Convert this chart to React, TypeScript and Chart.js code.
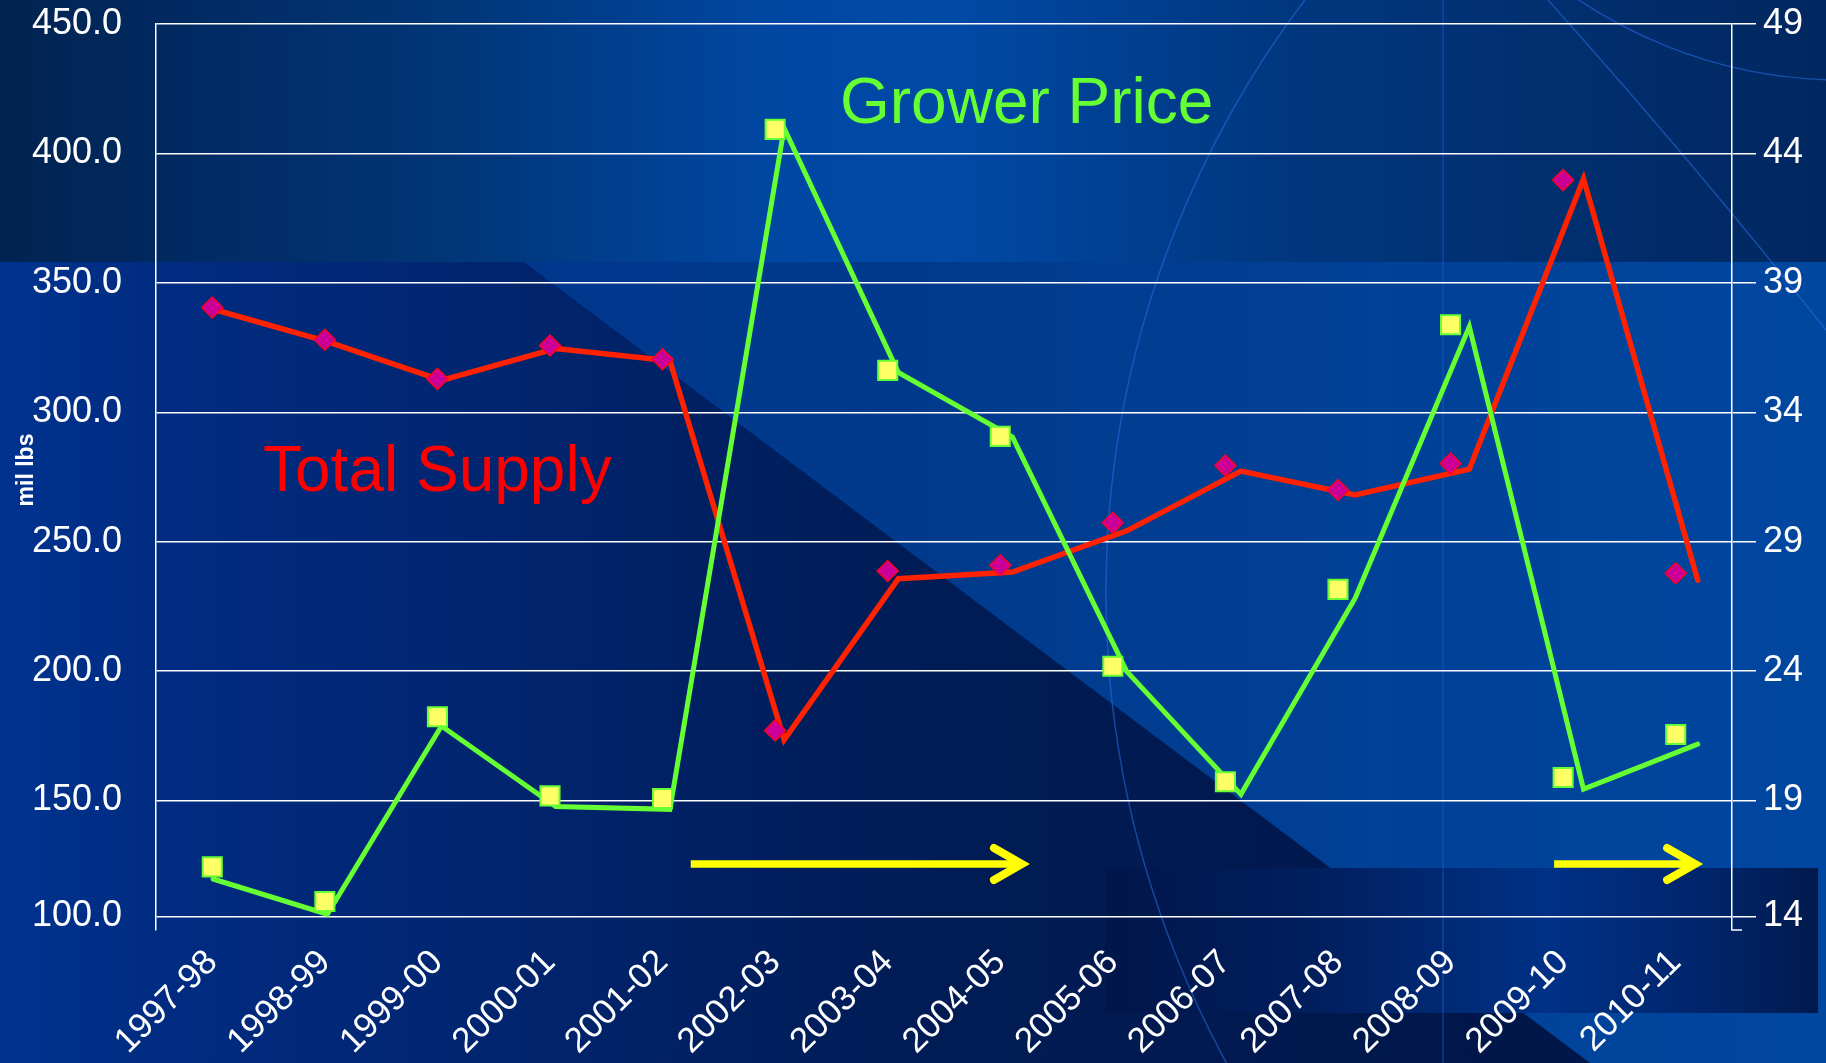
import React, { useEffect, useRef } from "react";
import { Chart, registerables } from "chart.js";

Chart.register(...registerables);

const FONT = "'Liberation Sans', Arial, Helvetica, sans-serif";

const seasons = [
  "1997-98", "1998-99", "1999-00", "2000-01", "2001-02", "2002-03", "2003-04",
  "2004-05", "2005-06", "2006-07", "2007-08", "2008-09", "2009-10", "2010-11",
];

// Total Supply (mil lbs), diamond markers
const supplyMarkers = [340.5, 328.0, 312.9, 325.8, 320.5, 177.1, 238.7, 240.9, 257.3, 279.4, 270.0, 280.2, 389.7, 237.8];
// Total Supply, line vertices
const supplyLine = [339.8, 327.3, 312.3, 324.6, 319.9, 173.5, 235.7, 238.3, 254.2, 277.3, 268.1, 278.0, 390.2, 235.1];
// Grower Price, square markers
const priceMarkers = [16.44, 15.1, 22.24, 19.18, 19.08, 44.93, 35.62, 33.07, 24.19, 19.73, 27.16, 37.38, 19.89, 21.55];
// Grower Price, line vertices
const priceLine = [15.97, 14.61, 21.88, 18.77, 18.66, 44.98, 35.54, 33.04, 23.99, 19.24, 26.82, 37.31, 19.44, 21.18];

const supplyTickValues = [105.2, 150, 200, 250, 300, 350, 400, 450];
const supplyTickLabels = ["100.0", "150.0", "200.0", "250.0", "300.0", "350.0", "400.0", "450.0"];
const priceTickValues = [14.52, 19, 24, 29, 34, 39, 44, 49];
const priceTickLabels = ["14", "19", "24", "29", "34", "39", "44", "49"];

// yellow arrows: [start, tip] in category index units, at a supply-axis level
const arrowSpans = [
  [4.25, 7.21],
  [11.92, 13.19],
];
const arrowLevel = 125.5;

function drawBackground(ctx: CanvasRenderingContext2D, W: number, H: number) {
  const bandH = 262;
  let g = ctx.createLinearGradient(0, 0, W, 0);
  g.addColorStop(0, "#00338f");
  g.addColorStop(0.5, "#013a8c");
  g.addColorStop(1, "#0047a0");
  ctx.fillStyle = g;
  ctx.fillRect(0, bandH, W, H - bandH);

  // dark wedge left of diagonal
  ctx.beginPath();
  ctx.moveTo(0, bandH);
  ctx.lineTo(524, bandH);
  ctx.lineTo(1590, H);
  ctx.lineTo(0, H);
  ctx.closePath();
  g = ctx.createLinearGradient(0, 0, 1500, 0);
  g.addColorStop(0, "#00338f");
  g.addColorStop(0.1, "#012c82");
  g.addColorStop(0.3, "#012672");
  g.addColorStop(0.6, "#011c56");
  g.addColorStop(1, "#01174a");
  ctx.fillStyle = g;
  ctx.fill();

  // top band
  g = ctx.createLinearGradient(0, 0, W, 0);
  g.addColorStop(0, "#012350");
  g.addColorStop(0.1, "#012a62");
  g.addColorStop(0.25, "#013678");
  g.addColorStop(0.42, "#0047a2");
  g.addColorStop(0.52, "#0049a6");
  g.addColorStop(0.7, "#01377f");
  g.addColorStop(1, "#012760");
  ctx.fillStyle = g;
  ctx.fillRect(0, 0, W, bandH);

  // bottom-right dark rectangle
  g = ctx.createLinearGradient(1106, 0, 1818, 0);
  g.addColorStop(0, "#01164a");
  g.addColorStop(0.3, "#011f5e");
  g.addColorStop(0.62, "#003186");
  g.addColorStop(0.85, "#01246a");
  g.addColorStop(1, "#011a4c");
  ctx.fillStyle = g;
  ctx.fillRect(1106, 868, 712, 145);

  // faint arcs / lines
  ctx.save();
  ctx.strokeStyle = "rgba(40,110,225,0.55)";
  ctx.lineWidth = 1.5;
  ctx.beginPath();
  ctx.arc(2086, 592, 980, 0, Math.PI * 2);
  ctx.stroke();
  ctx.beginPath();
  ctx.arc(1842, -392, 472, 0, Math.PI * 2);
  ctx.stroke();
  ctx.beginPath();
  ctx.moveTo(1548, 0);
  ctx.quadraticCurveTo(1700, 170, 1826, 330);
  ctx.stroke();
  ctx.strokeStyle = "rgba(30,100,215,0.45)";
  ctx.beginPath();
  ctx.moveTo(1443, 0);
  ctx.lineTo(1443, H);
  ctx.stroke();
  ctx.restore();
}

const decorPlugin = {
  id: "decor",
  beforeDraw(chart: any) {
    drawBackground(chart.ctx, chart.width, chart.height);
  },
  beforeDatasetsDraw(chart: any) {
    const ctx = chart.ctx as CanvasRenderingContext2D;
    const x = chart.scales.x;
    const y = chart.scales.y;
    ctx.save();
    ctx.font = `64px ${FONT}`;
    ctx.textAlign = "left";
    ctx.textBaseline = "alphabetic";
    ctx.fillStyle = "#ff0000";
    ctx.fillText("Total Supply", 263, 491);
    ctx.fillStyle = "#66ff33";
    ctx.fillText("Grower Price", 840, 123);

    // arrows
    const ay = y.getPixelForValue(arrowLevel);
    ctx.strokeStyle = "#ffff00";
    for (const [a, b] of arrowSpans) {
      const x0 = x.getPixelForValue(a);
      const x1 = x.getPixelForValue(b);
      ctx.lineWidth = 7.5;
      ctx.lineCap = "butt";
      ctx.beginPath();
      ctx.moveTo(x0, ay);
      ctx.lineTo(x1 - 3, ay);
      ctx.stroke();
      ctx.lineWidth = 8;
      ctx.lineCap = "round";
      ctx.lineJoin = "miter";
      ctx.beginPath();
      ctx.moveTo(x1 - 30, ay - 16);
      ctx.lineTo(x1 - 2, ay);
      ctx.lineTo(x1 - 30, ay + 16);
      ctx.stroke();
    }

    // small corner at right axis bottom
    const ca = chart.chartArea;
    ctx.strokeStyle = "#ffffff";
    ctx.lineWidth = 1.5;
    ctx.lineCap = "butt";
    ctx.beginPath();
    ctx.moveTo(ca.right, ca.bottom);
    ctx.lineTo(ca.right + 10, ca.bottom);
    ctx.stroke();

    // axis title
    ctx.translate(33, 470);
    ctx.rotate(-Math.PI / 2);
    ctx.font = `bold 23px ${FONT}`;
    ctx.textAlign = "center";
    ctx.fillStyle = "#ffffff";
    ctx.fillText("mil lbs", 0, 0);
    ctx.restore();
  },
};

export default function App() {
  const canvasRef = useRef<HTMLCanvasElement | null>(null);

  useEffect(() => {
    const canvas = canvasRef.current;
    if (!canvas) return;
    const chart = new Chart(canvas, {
      type: "line",
      data: {
        labels: seasons,
        datasets: [
          {
            label: "Total Supply",
            data: supplyMarkers,
            xAxisID: "x",
            yAxisID: "y",
            showLine: false,
            pointStyle: "rectRot",
            pointRadius: 10.5,
            pointHoverRadius: 10.5,
            pointBackgroundColor: "#cc0099",
            pointBorderColor: "#ff0022",
            pointBorderWidth: 1.5,
            order: 0,
          },
          {
            label: "Grower Price",
            data: priceMarkers,
            xAxisID: "x",
            yAxisID: "yR",
            showLine: false,
            pointStyle: "rect",
            pointRadius: 13.5,
            pointHoverRadius: 13.5,
            pointBackgroundColor: "#ffff66",
            pointBorderColor: "#66ff33",
            pointBorderWidth: 2,
            order: 0,
          },
          {
            label: "Grower Price line",
            data: priceLine.map((v, i) => ({ x: i, y: v })),
            xAxisID: "xl",
            yAxisID: "yR",
            borderColor: "#66ff33",
            borderWidth: 5,
            pointRadius: 0,
            tension: 0,
            borderCapStyle: "round",
            order: 1,
          },
          {
            label: "Total Supply line",
            data: supplyLine.map((v, i) => ({ x: i, y: v })),
            xAxisID: "xl",
            yAxisID: "y",
            borderColor: "#ff2200",
            borderWidth: 5.5,
            pointRadius: 0,
            tension: 0,
            borderCapStyle: "round",
            order: 2,
          },
        ],
      },
      options: {
        responsive: false,
        animation: false,
        devicePixelRatio: 1,
        layout: { padding: { top: 24, left: 0, right: 0, bottom: 0 } },
        plugins: {
          legend: { display: false },
          tooltip: { enabled: false },
          title: { display: false },
        },
        scales: {
          x: {
            type: "category",
            offset: true,
            position: "bottom",
            grid: { display: false, drawTicks: false },
            border: { display: false },
            ticks: {
              color: "#ffffff",
              font: { family: FONT, size: 35 },
              minRotation: 45,
              maxRotation: 45,
              autoSkip: false,
              padding: 12,
            },
            afterFit: (s: any) => {
              s.height = 133;
              s.paddingLeft = 0;
              s.paddingRight = 0;
            },
          },
          xl: {
            type: "linear",
            display: false,
            min: -0.5,
            max: 13.3,
          },
          y: {
            position: "left",
            min: 100,
            max: 450,
            grid: { color: "#ffffff", lineWidth: 1.5, drawTicks: false },
            border: { display: true, color: "#ffffff", width: 1.5 },
            ticks: {
              color: "#ffffff",
              font: { family: FONT, size: 36 },
              padding: 34,
              callback: (_v: any, i: number) => supplyTickLabels[i],
            },
            afterBuildTicks: (s: any) => {
              s.ticks = supplyTickValues.map((v) => ({ value: v }));
            },
            afterFit: (s: any) => {
              s.width = 156;
              s.paddingTop = 0;
              s.paddingBottom = 0;
            },
          },
          yR: {
            position: "right",
            min: 14,
            max: 49,
            grid: {
              color: "#ffffff",
              lineWidth: 1.5,
              drawOnChartArea: false,
              drawTicks: true,
              tickLength: 24,
            },
            border: { display: true, color: "#ffffff", width: 1.5 },
            ticks: {
              color: "#ffffff",
              font: { family: FONT, size: 36 },
              padding: 7,
              callback: (_v: any, i: number) => priceTickLabels[i],
            },
            afterBuildTicks: (s: any) => {
              s.ticks = priceTickValues.map((v) => ({ value: v }));
            },
            afterFit: (s: any) => {
              s.width = 94;
              s.paddingTop = 0;
              s.paddingBottom = 0;
            },
          },
        },
      },
      plugins: [decorPlugin],
    } as any);
    return () => chart.destroy();
  }, []);

  return (
    <div style={{ position: "fixed", left: 0, top: 0, width: 1826, height: 1063, overflow: "hidden" }}>
      <canvas ref={canvasRef} width={1826} height={1063} style={{ display: "block" }} />
    </div>
  );
}
